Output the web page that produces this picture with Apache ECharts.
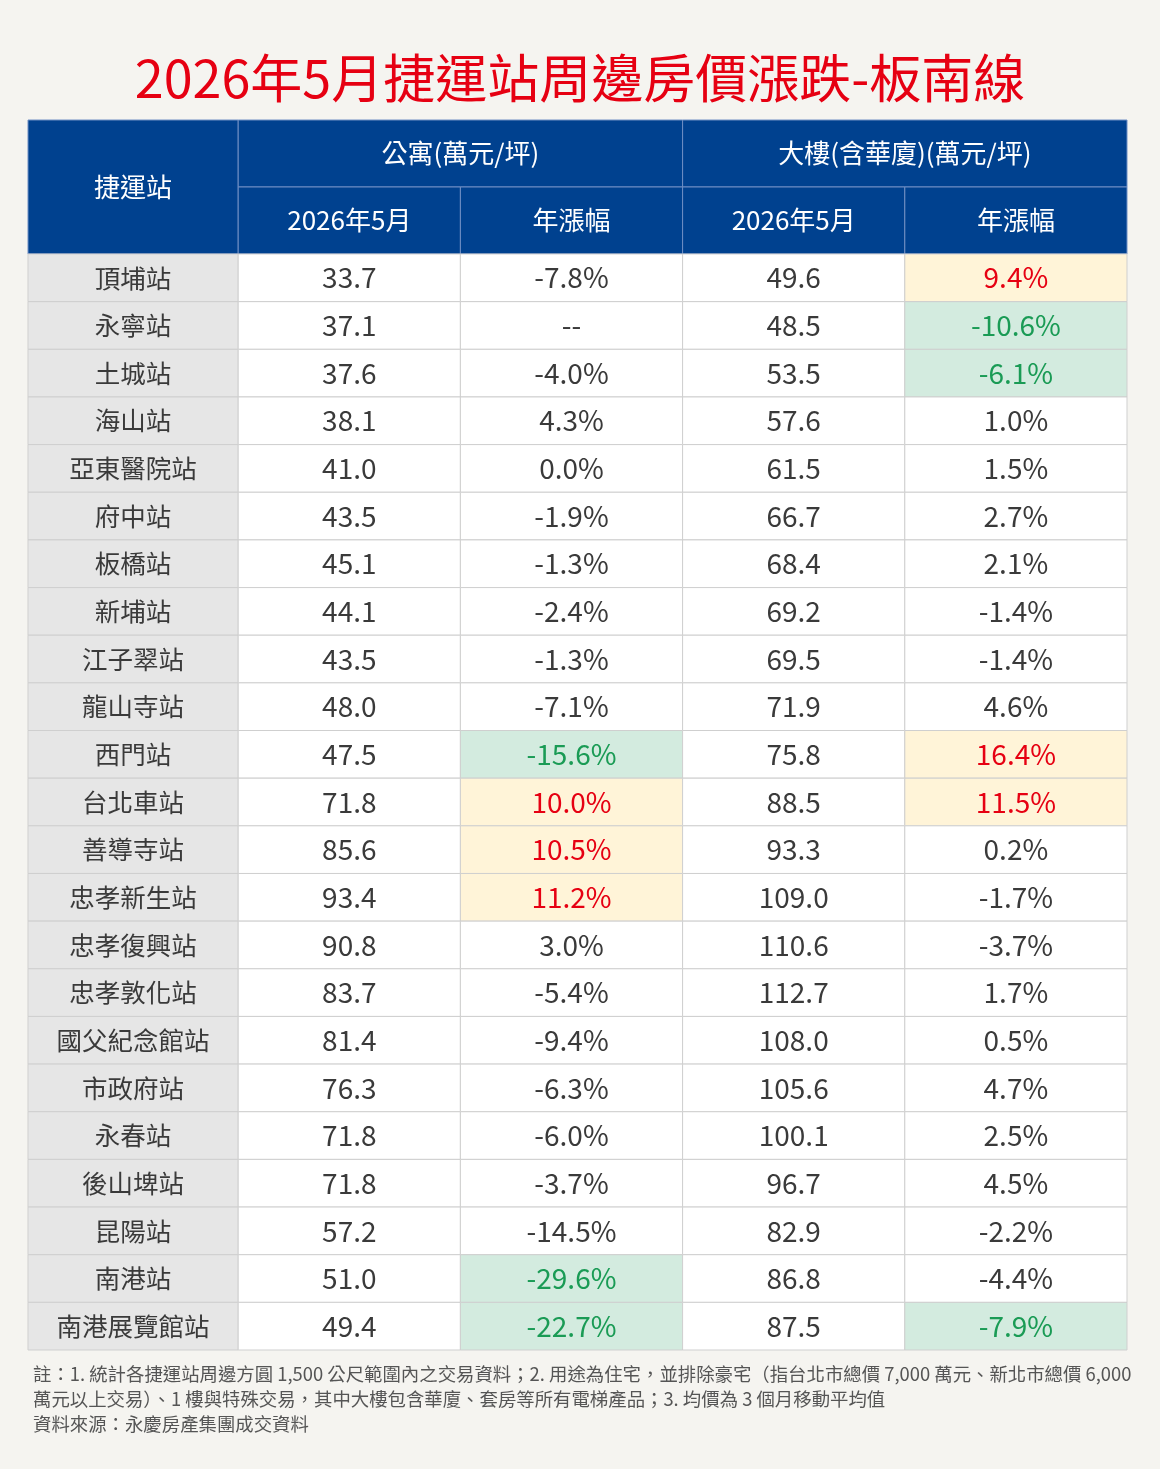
<!DOCTYPE html>
<html>
<head>
<meta charset="utf-8">
<script src="https://cdn.jsdelivr.net/npm/echarts@6/dist/echarts.min.js"></script>
<style>
  html, body { margin: 0; padding: 0; background: #f5f4f0; }
  #main { width: 1160px; height: 1469px; }
</style>
</head>
<body>
<div id="main"></div>
<script>
// 板南線 各站 公寓/大樓 單價與年漲幅
const stations = ['頂埔站', '永寧站', '土城站', '海山站', '亞東醫院站', '府中站', '板橋站', '新埔站',
  '江子翠站', '龍山寺站', '西門站', '台北車站', '善導寺站', '忠孝新生站', '忠孝復興站', '忠孝敦化站',
  '國父紀念館站', '市政府站', '永春站', '後山埤站', '昆陽站', '南港站', '南港展覽館站'];
const aptPrice = ['33.7', '37.1', '37.6', '38.1', '41.0', '43.5', '45.1', '44.1', '43.5', '48.0', '47.5', '71.8',
  '85.6', '93.4', '90.8', '83.7', '81.4', '76.3', '71.8', '71.8', '57.2', '51.0', '49.4'];
const aptYoY = ['-7.8%', '--', '-4.0%', '4.3%', '0.0%', '-1.9%', '-1.3%', '-2.4%', '-1.3%', '-7.1%', '-15.6%', '10.0%',
  '10.5%', '11.2%', '3.0%', '-5.4%', '-9.4%', '-6.3%', '-6.0%', '-3.7%', '-14.5%', '-29.6%', '-22.7%'];
const bldPrice = ['49.6', '48.5', '53.5', '57.6', '61.5', '66.7', '68.4', '69.2', '69.5', '71.9', '75.8', '88.5',
  '93.3', '109.0', '110.6', '112.7', '108.0', '105.6', '100.1', '96.7', '82.9', '86.8', '87.5'];
const bldYoY = ['9.4%', '-10.6%', '-6.1%', '1.0%', '1.5%', '2.7%', '2.1%', '-1.4%', '-1.4%', '4.6%', '16.4%', '11.5%',
  '0.2%', '-1.7%', '-3.7%', '1.7%', '0.5%', '4.7%', '2.5%', '4.5%', '-2.2%', '-4.4%', '-7.9%'];
// 標示: up = 漲幅顯著, down = 跌幅顯著
const aptMark = ['', '', '', '', '', '', '', '', '', '', 'down', 'up', 'up', 'up', '', '', '', '', '', '', '', 'down', 'down'];
const bldMark = ['up', 'down', 'down', '', '', '', '', '', '', '', 'up', 'up', '', '', '', '', '', '', '', '', '', '', 'down'];
const groupHeads = ['公寓(萬元/坪)', '大樓(含華廈)(萬元/坪)'];
const subHeads = ['2026年5月', '年漲幅'];

const FONT = '"Noto Sans CJK TC", "Noto Sans", sans-serif';
const HEAD_BG = '#00418f';
const HEAD_LINE = '#6f8fc4';
const GRID_LINE = '#cfcfcf';

// 欄寬、列高(軸單位)
const colW = [0.946, 1, 1, 1, 1];
const headH = 1.406;
const colX = [0];
colW.forEach((w, i) => colX.push(colX[i] + w));
const totalY = headH * 2 + stations.length;

const cells = [];
function addCell(x0, x1, y0, y1, text, opt) {
  cells.push(Object.assign({ x0, x1, y0, y1, text }, opt));
}
const headOpt = { bg: HEAD_BG, color: '#ffffff', size: 26, line: HEAD_LINE };
addCell(colX[0], colX[1], 0, headH * 2, '捷運站', headOpt);
groupHeads.forEach((g, i) => {
  addCell(colX[1 + i * 2], colX[3 + i * 2], 0, headH, g, headOpt);
  subHeads.forEach((s, j) => {
    addCell(colX[1 + i * 2 + j], colX[2 + i * 2 + j], headH, headH * 2, s, headOpt);
  });
});

function markStyle(m) {
  if (m === 'up') return { bg: '#fff4d8', color: '#e60012' };
  if (m === 'down') return { bg: '#d3ebdf', color: '#1a9b55' };
  return { bg: '#ffffff', color: '#3a3a3a' };
}
stations.forEach((s, r) => {
  const y0 = headH * 2 + r, y1 = y0 + 1;
  addCell(colX[0], colX[1], y0, y1, s, { bg: '#e6e6e6', color: '#3a3a3a', size: 25.5, line: GRID_LINE });
  addCell(colX[1], colX[2], y0, y1, aptPrice[r], { bg: '#ffffff', color: '#3a3a3a', size: 28, line: GRID_LINE });
  addCell(colX[2], colX[3], y0, y1, aptYoY[r], Object.assign({ size: 28, line: GRID_LINE }, markStyle(aptMark[r])));
  addCell(colX[3], colX[4], y0, y1, bldPrice[r], { bg: '#ffffff', color: '#3a3a3a', size: 28, line: GRID_LINE });
  addCell(colX[4], colX[5], y0, y1, bldYoY[r], Object.assign({ size: 28, line: GRID_LINE }, markStyle(bldMark[r])));
});

const chart = echarts.init(document.getElementById('main'));

const option = {
  backgroundColor: '#f5f4f0',
  animation: false,
  title: {
    text: '2026年5月捷運站周邊房價漲跌-板南線',
    left: 'center',
    top: 47,
    textStyle: { color: '#e60012', fontSize: 52, fontWeight: 'normal', fontFamily: FONT }
  },
  grid: { left: 28, right: 33, top: 120, bottom: 119 },
  xAxis: { type: 'value', min: 0, max: colX[5], show: false },
  yAxis: { type: 'value', min: 0, max: totalY, inverse: true, show: false },
  graphic: [{
    type: 'text',
    left: 33,
    top: 1362,
    style: {
      text: '註：1. 統計各捷運站周邊方圓 1,500 公尺範圍內之交易資料；2. 用途為住宅，並排除豪宅（指台北市總價 7,000 萬元、新北市總價 6,000\n' +
        '萬元以上交易）、1 樓與特殊交易，其中大樓包含華廈、套房等所有電梯產品；3. 均價為 3 個月移動平均值\n' +
        '資料來源：永慶房產集團成交資料',
      fill: '#555555',
      fontSize: 18.4,
      lineHeight: 25,
      fontFamily: FONT
    }
  }],
  series: [{
    type: 'custom',
    clip: false,
    data: cells.map(c => [(c.x0 + c.x1) / 2, (c.y0 + c.y1) / 2]),
    renderItem: function (params, api) {
      const c = cells[params.dataIndex];
      const p0 = api.coord([c.x0, c.y0]);
      const p1 = api.coord([c.x1, c.y1]);
      return {
        type: 'group',
        children: [{
          type: 'rect',
          shape: { x: p0[0], y: p0[1], width: p1[0] - p0[0], height: p1[1] - p0[1] },
          style: { fill: c.bg, stroke: c.line, lineWidth: 1 }
        }, {
          type: 'text',
          style: {
            text: c.text,
            x: (p0[0] + p1[0]) / 2,
            y: (p0[1] + p1[1]) / 2,
            align: 'center',
            verticalAlign: 'middle',
            fill: c.color,
            fontSize: c.size,
            fontFamily: FONT
          }
        }]
      };
    }
  }]
};

chart.setOption(option);
</script>
</body>
</html>
